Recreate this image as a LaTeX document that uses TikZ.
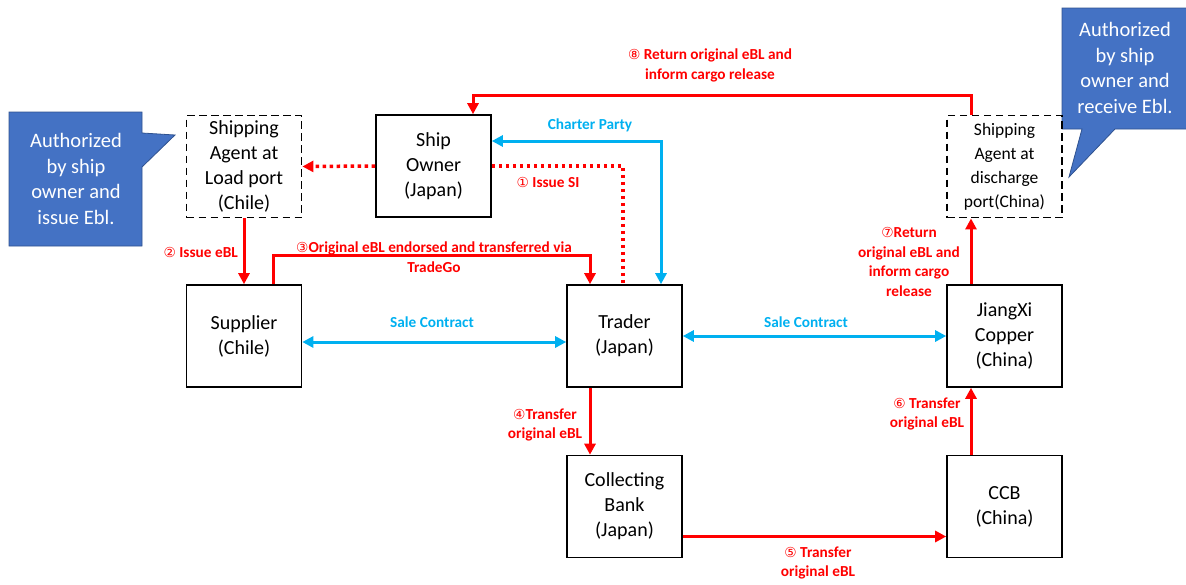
\documentclass[tikz,border=0pt]{standalone}
\usepackage{fontspec}
\setmainfont{Carlito}
\newfontfamily\cnumfont[Scale=0.9]{DejaVu Sans}
\usetikzlibrary{arrows.meta}
\definecolor{eblred}{HTML}{FF0000}
\definecolor{eblblue}{HTML}{00B0F0}
\definecolor{callfill}{HTML}{4472C4}
\definecolor{calldraw}{HTML}{2F528F}
\newcommand{\cn}[1]{{\cnumfont\mdseries #1}}
\tikzset{
  party/.style={draw, line width=1.6pt, minimum width=115pt, minimum height=102pt,
    align=center, inner sep=2pt, font=\fontsize{20}{25}\selectfont},
  agent/.style={party, line width=1.9pt, dash pattern=on 7.5pt off 4.5pt},
  redline/.style={draw=eblred, line width=3pt, -{Triangle[length=11pt,width=11pt]}},
  reddot/.style={draw=eblred, line width=3.5pt, dash pattern=on 3.5pt off 3.5pt},
  blueline/.style={draw=eblblue, line width=3pt, {Triangle[length=11pt,width=11pt]}-{Triangle[length=11pt,width=11pt]}},
  redlbl/.style={text=eblred, align=center, font=\fontsize{15.3}{19.5}\selectfont\bfseries, inner sep=0pt},
  bluelbl/.style={text=eblblue, align=center, font=\fontsize{15.3}{19.5}\selectfont\bfseries, inner sep=0pt},
  calltext/.style={text=white, align=center, font=\fontsize{20.5}{25.5}\selectfont, inner sep=0pt},
}
\begin{document}
\begin{tikzpicture}[x=1pt, y=-1pt]
\useasboundingbox (0,0) rectangle (1186,584);

\fill[callfill, draw=calldraw, line width=0.8pt] (9,112) -- (142,112) -- (142,133) -- (175,135) -- (142,167) -- (142,246) -- (9,246) -- cycle;
\node[calltext] (cleft) at (76,179) {Authorized\\by ship\\owner and\\issue Ebl.};
\fill[callfill, draw=calldraw, line width=0.8pt] (1062,8) -- (1190,8) -- (1190,129) -- (1115,129) -- (1069,177) -- (1082,129) -- (1062,129) -- cycle;
\node[calltext] (cright) at (1125,68) {Authorized\\by ship\\owner and\\receive Ebl.};

\node[agent] (laa) at (244,166.5) {Shipping\\Agent at\\Load port\\(Chile)};
\node[party] (owner) at (433.5,166) {Ship\\Owner\\(Japan)};
\node[agent, font=\fontsize{17.5}{24}\selectfont] (daa) at (1004.5,166.5) {Shipping\\Agent at\\discharge\\port(China)};
\node[party] (supp) at (244,336) {Supplier\\(Chile)};
\node[party] (trader) at (624.5,336) {Trader\\(Japan)};
\node[party] (jx) at (1004.5,336) {JiangXi\\Copper\\(China)};
\node[party] (bank) at (624.5,506.5) {Collecting\\Bank\\(Japan)};
\node[party] (ccb) at (1004.5,506.5) {CCB\\(China)};

\draw[blueline] ([yshift=25pt]owner.east) -| ([xshift=36.5pt]trader.north);
\node[bluelbl] (lcp) at (590,125) {Charter Party};
\draw[reddot] (owner.east) -| ([xshift=-1.5pt]trader.north);
\node[redlbl] (l1) at (548,182) {\cn{①} Issue SI};
\draw[reddot, -{Triangle[length=11pt,width=11pt]}] (owner.west) -- (laa.east);

\draw[redline] (laa.south) -- (supp.north);
\node[redlbl, anchor=east] (l2) at (238,252) {\cn{②} Issue eBL};
\draw[redline] ([xshift=29pt]supp.north) -- ([xshift=29pt, yshift=29pt]supp.north) -| ([xshift=-34.5pt]trader.north);
\node[redlbl] (l3) at (434,257) {\cn{③}Original eBL endorsed and transferred via\\TradeGo};

\draw[blueline] ([yshift=-6pt]supp.east) -- ([yshift=-6pt]trader.west);
\node[bluelbl] (lsc1) at (432,322) {Sale Contract};
\draw[blueline] (trader.east) -- (jx.west);
\node[bluelbl] (lsc2) at (806,322) {Sale Contract};

\draw[redline] ([xshift=-34.5pt]trader.south) -- ([xshift=-34.5pt]bank.north);
\node[redlbl] (l4) at (545,425) {\cn{④}Transfer\\original eBL};
\draw[redline] ([yshift=-30pt]bank.east) -- ([yshift=-30pt]ccb.west);
\node[redlbl] (l5) at (818,563) {\cn{⑤} Transfer\\original eBL};
\draw[redline] ([xshift=-33.5pt]ccb.north) -- ([xshift=-33.5pt]jx.south);
\node[redlbl] (l6) at (927,414) {\cn{⑥} Transfer\\original eBL};
\draw[redline] ([xshift=-33.5pt]jx.north) -- ([xshift=-33.5pt]daa.south);
\node[redlbl] (l7) at (909,262) {\cn{⑦}Return\\original eBL and\\inform cargo\\release};
\draw[redline] ([xshift=-33.5pt]daa.north) -- ([xshift=-33.5pt, yshift=19pt]daa.north) -| ([xshift=39.5pt]owner.north);
\node[redlbl] (l8) at (710,65.5) {\cn{⑧} Return original eBL and\\inform cargo release};
\end{tikzpicture}
\end{document}
